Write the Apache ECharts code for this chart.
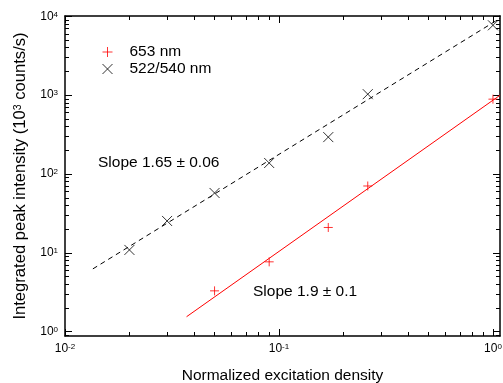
<!DOCTYPE html>
<html>
<head>
<meta charset="utf-8">
<script src="https://cdn.jsdelivr.net/npm/echarts@6/dist/echarts.min.js"></script>
<style>
html,body{margin:0;padding:0;background:#fff;}
#c{width:503px;height:383px;}
</style>
</head>
<body>
<div id="c"></div>
<script>
// ---- data ----
var redX = [0.05, 0.09, 0.17, 0.26, 1.0];
var redY = [3.3, 7.7, 21.0, 70.5, 890];
var blackX = [0.02, 0.03, 0.05, 0.09, 0.17, 0.26, 1.0];
var blackY = [10.9, 25.4, 57.5, 138, 294, 1030, 7690];
var redFitX = [0.037, 1.08];
var redFitY = [1.55, 1000];
var blackFitX = [0.0135, 1.08];
var blackFitY = [6.27, 9440];
var xMajorExp = [-2, -1, 0];
var yMajorExp = [0, 1, 2, 3, 4];
var seriesNames = ['653 nm', '522/540 nm'];
var slopeTexts = ['Slope 1.65 \u00b1 0.06', 'Slope 1.9 \u00b1 0.1'];

var X_MIN = -2, X_MAX = 0.033, Y_MIN = -0.054, Y_MAX = 4.004;
var FONT = 'Liberation Sans, Arial, sans-serif';
var FS = 15.5;

function lg(v){ return Math.log10(v); }
function pairs(xs, ys){ return xs.map(function(x,i){ return [lg(x), lg(ys[i])]; }); }
function minorVals(lo, hi){
  var out = [];
  for (var n = Math.floor(lo) - 1; n <= Math.ceil(hi); n++) {
    for (var k = 2; k <= 9; k++) {
      var v = n + Math.log10(k);
      if (v > lo + 1e-6 && v < hi - 1e-6) out.push(v);
    }
  }
  return out;
}
var xMinor = minorVals(X_MIN, X_MAX);
var yMinor = minorVals(Y_MIN, Y_MAX);

var rich = {
  b: {fontSize: 12, fontFamily: FONT, color: '#000', verticalAlign: 'bottom'},
  s: {fontSize: 8, fontFamily: FONT, color: '#000', verticalAlign: 'top'}
};
function supFmt(v){ return '{b|10}{s|' + Math.round(v) + '}'; }

var nameRich = {
  a: {fontSize: 16.6, fontFamily: FONT, color: '#000', verticalAlign: 'bottom'},
  s: {fontSize: 10.5, fontFamily: FONT, color: '#000', verticalAlign: 'top'}
};

var lineStyle = {color: '#000', width: 1.5};

function xAxisDef(pos, major, labels){
  return {
    type: 'value', min: X_MIN, max: X_MAX, position: pos,
    axisLine: {show: major, onZero: false, lineStyle: lineStyle},
    axisTick: {show: true, inside: true, length: major ? 7 : 4,
      customValues: major ? xMajorExp : xMinor, lineStyle: {color: '#000', width: 1}},
    axisLabel: labels ? {show: true, customValues: xMajorExp, formatter: supFmt, rich: rich, margin: 7} : {show: false},
    splitLine: {show: false},
    name: labels ? 'Normalized excitation density' : '',
    nameLocation: 'middle', nameGap: 32,
    nameTextStyle: {fontSize: FS, fontFamily: FONT, color: '#000'}
  };
}
function yAxisDef(pos, major, labels){
  return {
    type: 'value', min: Y_MIN, max: Y_MAX, position: pos,
    axisLine: {show: major, onZero: false, lineStyle: lineStyle},
    axisTick: {show: true, inside: true, length: major ? 7 : 4,
      customValues: major ? yMajorExp : yMinor, lineStyle: {color: '#000', width: 1}},
    axisLabel: labels ? {show: true, customValues: yMajorExp, formatter: supFmt, rich: rich, margin: 7} : {show: false},
    splitLine: {show: false},
    name: labels ? '{a|Integrated peak intensity (10}{s|3}{a| counts/s)}' : '',
    nameLocation: 'middle', nameGap: 31, nameRotate: 90,
    nameTextStyle: {fontSize: 16.6, fontFamily: FONT, color: '#000', rich: nameRich}
  };
}

var plusPath = 'path://M5,0L5,10M0,5L10,5';
var crossPath = 'path://M0,0L10,10M10,0L0,10';

var chart = echarts.init(document.getElementById('c'), null, {renderer: 'canvas'});
chart.setOption({
  animation: false,
  backgroundColor: '#fff',
  grid: {left: 65, right: 3, top: 16, bottom: 47, containLabel: false, outerBoundsMode: 'none'},
  xAxis: [xAxisDef('bottom', true, true), xAxisDef('bottom', false, false),
          xAxisDef('top', true, false), xAxisDef('top', false, false)],
  yAxis: [yAxisDef('left', true, true), yAxisDef('left', false, false),
          yAxisDef('right', true, false), yAxisDef('right', false, false)],
  legend: {
    data: seriesNames, orient: 'vertical', left: 97, top: 39,
    itemWidth: 10, itemHeight: 10, itemGap: 1,
    itemStyle: {borderWidth: 1},
    textStyle: {fontSize: FS, fontFamily: FONT, color: '#000', padding: [0, 0, 0, 12]}
  },
  series: [
    {type: 'line', data: pairs(redFitX, redFitY), showSymbol: false, symbol: 'none',
      lineStyle: {color: '#ff0000', width: 1}, silent: true, z: 2},
    {type: 'line', data: pairs(blackFitX, blackFitY), showSymbol: false, symbol: 'none',
      lineStyle: {color: '#000', width: 1, type: [5, 4]}, silent: true, z: 2},
    {type: 'scatter', name: seriesNames[0], data: pairs(redX, redY), symbol: plusPath, symbolSize: 9,
      itemStyle: {color: 'rgba(0,0,0,0)', borderColor: '#ff0000', borderWidth: 1}, z: 3},
    {type: 'scatter', name: seriesNames[1], data: pairs(blackX, blackY), symbol: crossPath, symbolSize: 10,
      itemStyle: {color: 'rgba(0,0,0,0)', borderColor: '#000', borderWidth: 1}, z: 3}
  ],
  graphic: [
    {type: 'text', left: 98, top: 155, style: {text: slopeTexts[0], fontSize: FS, fontFamily: FONT, fill: '#000'}},
    {type: 'text', left: 253, top: 284, style: {text: slopeTexts[1], fontSize: FS, fontFamily: FONT, fill: '#000'}}
  ]
});
</script>
</body>
</html>
